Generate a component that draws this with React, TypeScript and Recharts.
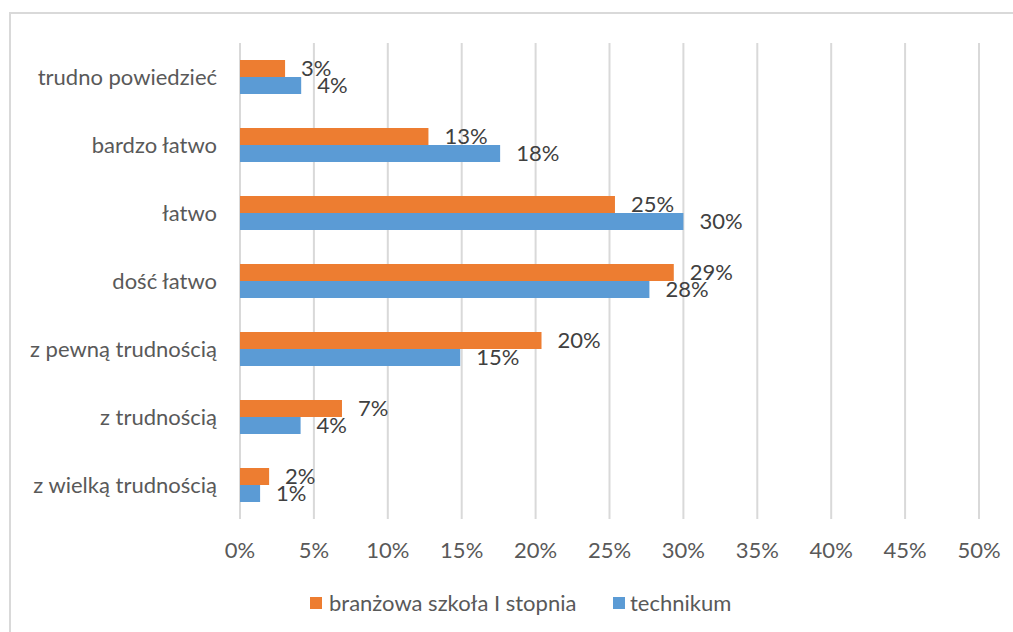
import React from 'react';
import { BarChart, Bar, XAxis, YAxis, CartesianGrid, LabelList, Legend } from 'recharts';

const categories = [
  'trudno powiedzieć',
  'bardzo łatwo',
  'łatwo',
  'dość łatwo',
  'z pewną trudnością',
  'z trudnością',
  'z wielką trudnością',
];
const branzowa = [0.0305, 0.1275, 0.2537, 0.2935, 0.204, 0.069, 0.0197];
const technikum = [0.0414, 0.176, 0.3, 0.277, 0.149, 0.041, 0.0136];
const xTicks = [0, 0.05, 0.1, 0.15, 0.2, 0.25, 0.3, 0.35, 0.4, 0.45, 0.5];
const seriesNames = ['branżowa szkoła I stopnia', 'technikum'];
const seriesColors = ['#ED7D31', '#5B9BD5'];

const data = categories.map((name, i) => ({
  name,
  branzowa: branzowa[i],
  technikum: technikum[i],
}));

const FONT = 'Lato, "Open Sans", sans-serif';
const pct = (v: any) => `${Math.round(Number(v) * 100)}%`;

const LegendContent = () => (
  <div style={{ position: 'relative', width: 1013, height: 30, fontFamily: FONT, fontSize: 22, color: '#595959' }}>
    <div style={{ position: 'absolute', left: 310, top: 9, width: 12, height: 12, background: seriesColors[0] }} />
    <div style={{ position: 'absolute', left: 329, top: 0, lineHeight: '30px', whiteSpace: 'nowrap' }}>{seriesNames[0]}</div>
    <div style={{ position: 'absolute', left: 613, top: 9, width: 12, height: 12, background: seriesColors[1] }} />
    <div style={{ position: 'absolute', left: 630, top: 0, lineHeight: '30px', whiteSpace: 'nowrap' }}>{seriesNames[1]}</div>
  </div>
);

export default function App() {
  return (
    <div style={{ position: 'absolute', left: 0, top: 0, width: 1013, height: 632, overflow: 'hidden', background: '#fff' }}>
      <div
        style={{
          position: 'absolute',
          left: 9,
          top: 12,
          width: 1100,
          height: 700,
          border: '2px solid #d9d9d9',
          boxSizing: 'border-box',
        }}
      />
      <div style={{ position: 'absolute', left: 0, top: 0 }}>
        <BarChart
          width={1013}
          height={632}
          data={data}
          layout="vertical"
          margin={{ top: 43, right: 34, bottom: 43, left: 0 }}
          barCategoryGap="25%"
          barGap={0}
          style={{ fontFamily: FONT }}
        >
          <CartesianGrid horizontal={false} stroke="#d9d9d9" strokeWidth={2} />
          <XAxis
            type="number"
            domain={[0, 0.5]}
            ticks={xTicks}
            tickFormatter={pct}
            axisLine={false}
            tickLine={false}
            tickSize={0}
            tickMargin={23}
            height={40}
            tick={{ fill: '#595959', fontSize: 22, fontFamily: FONT }}
            interval={0}
          />
          <YAxis
            type="category"
            dataKey="name"
            width={240}
            axisLine={false}
            tickLine={false}
            tickSize={0}
            tickMargin={23}
            tick={{ fill: '#595959', fontSize: 22, fontFamily: FONT }}
            interval={0}
          />
          <Legend
            content={<LegendContent />}
            wrapperStyle={{ top: 588, left: 0, width: 1013 }}
            verticalAlign="bottom"
          />
          <Bar dataKey="branzowa" name={seriesNames[0]} fill={seriesColors[0]} isAnimationActive={false}>
            <LabelList dataKey="branzowa" position="right" offset={16} formatter={pct} fill="#404040" fontSize={22} fontFamily={FONT} />
          </Bar>
          <Bar dataKey="technikum" name={seriesNames[1]} fill={seriesColors[1]} isAnimationActive={false}>
            <LabelList dataKey="technikum" position="right" offset={16} formatter={pct} fill="#404040" fontSize={22} fontFamily={FONT} />
          </Bar>
        </BarChart>
      </div>
    </div>
  );
}
